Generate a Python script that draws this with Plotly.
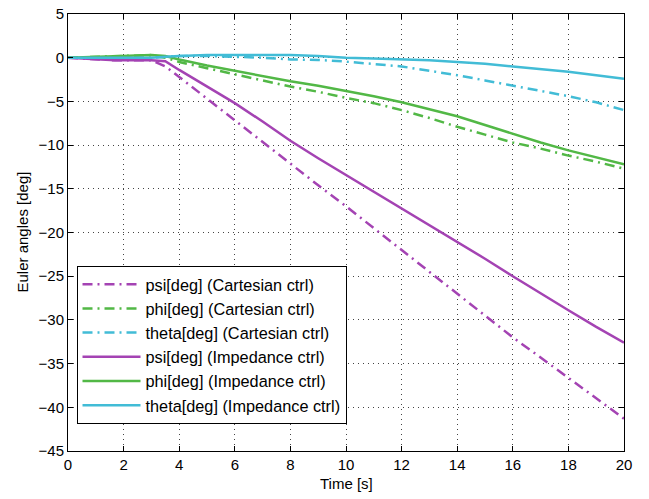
import plotly.graph_objects as go

# Time samples [s]
time_s = [0, 1.7, 3.0, 3.5, 4, 5, 6, 7, 8, 9, 10, 11, 12, 13, 14, 15, 16, 17, 18, 19, 20]

# Cartesian control (dash-dot)
psi_cart = [0, -0.3, -0.3, -1.0, -2.2, -4.7, -7.1, -9.7, -12.2, -14.6, -17.0, -19.5, -22.0, -24.6, -27.1, -29.6, -32.0, -34.3, -36.6, -38.9, -41.3]
phi_cart = [0, 0.2, 0.3, 0.0, -0.5, -1.2, -1.9, -2.6, -3.3, -3.9, -4.6, -5.2, -6.0, -6.9, -7.9, -8.8, -9.7, -10.4, -11.2, -11.9, -12.7]
theta_cart = [0, 0, 0, 0.1, 0.2, 0.2, 0.1, 0.0, -0.2, -0.25, -0.45, -0.7, -1.0, -1.5, -2.0, -2.6, -3.2, -3.8, -4.4, -5.1, -6.0]

# Impedance control (solid)
psi_imp = [0, -0.3, -0.3, -0.4, -1.4, -3.3, -5.2, -7.3, -9.5, -11.5, -13.4, -15.3, -17.2, -19.2, -21.1, -23.0, -25.0, -27.0, -28.9, -30.8, -32.6]
phi_imp = [0, 0.2, 0.3, 0.2, -0.2, -0.9, -1.5, -2.1, -2.7, -3.2, -3.8, -4.4, -5.1, -5.9, -6.7, -7.7, -8.7, -9.7, -10.6, -11.4, -12.2]
theta_imp = [0, 0, 0, 0.1, 0.2, 0.3, 0.3, 0.3, 0.3, 0.2, 0.0, -0.1, -0.2, -0.3, -0.5, -0.7, -1.0, -1.3, -1.6, -2.0, -2.4]

names = [
    "psi[deg] (Cartesian ctrl)",
    "phi[deg] (Cartesian ctrl)",
    "theta[deg] (Cartesian ctrl)",
    "psi[deg] (Impedance ctrl)",
    "phi[deg] (Impedance ctrl)",
    "theta[deg] (Impedance ctrl)",
]

x_ticks = list(range(0, 21, 2))
y_ticks = list(range(-45, 6, 5))

PURPLE = "#A443B3"
GREEN = "#52B846"
CYAN = "#42BCD6"

series = [
    (psi_cart, PURPLE, "10px,5px,2px,5px"),
    (phi_cart, GREEN, "10px,5px,2px,5px"),
    (theta_cart, CYAN, "10px,5px,2px,5px"),
    (psi_imp, PURPLE, "solid"),
    (phi_imp, GREEN, "solid"),
    (theta_imp, CYAN, "solid"),
]

fig = go.Figure()
for (vals, col, dash), nm in zip(series, names):
    fig.add_trace(go.Scatter(x=time_s, y=vals, mode="lines", name=nm,
                             line=dict(color=col, width=2.5, dash=dash)))

FONT = "Liberation Sans, Arial, sans-serif"
axis_common = dict(
    showline=True, linecolor="black", linewidth=1, mirror="ticks",
    ticks="inside", ticklen=5, tickcolor="black",
    showgrid=True, gridcolor="#444444", gridwidth=1, griddash="1px,4px",
    zeroline=False, ticklabeloverflow="allow",
    tickfont=dict(family=FONT, size=15, color="black"),
)

fig.update_xaxes(range=[0, 20], tickmode="array", tickvals=x_ticks, **axis_common)
fig.update_yaxes(range=[-45, 5], tickmode="array", tickvals=y_ticks, **axis_common)

fig.add_annotation(text="Time [s]", xref="paper", yref="paper", x=0.5, y=-32 / 437,
                   xanchor="center", yanchor="middle", showarrow=False,
                   font=dict(family=FONT, size=15, color="black"))
fig.add_annotation(text="Euler angles [deg]", xref="paper", yref="paper", x=-46 / 556, y=0.5,
                   xanchor="center", yanchor="middle", showarrow=False, textangle=-90,
                   font=dict(family=FONT, size=15, color="black"))

fig.update_layout(
    width=649, height=499,
    margin=dict(l=68, r=25, t=14, b=48, autoexpand=False),
    paper_bgcolor="white", plot_bgcolor="white",
    font=dict(family=FONT, size=15, color="black"),
    legend=dict(x=0.0153, y=0.423, xanchor="left", yanchor="top",
                bordercolor="black", borderwidth=1, bgcolor="white",
                itemwidth=58,
                font=dict(family=FONT, size=16.3, color="black"),
                tracegroupgap=0),
    showlegend=True,
)

fig.write_html("out.html", config={"displayModeBar": False},
               post_script="document.body.style.margin='0';")
